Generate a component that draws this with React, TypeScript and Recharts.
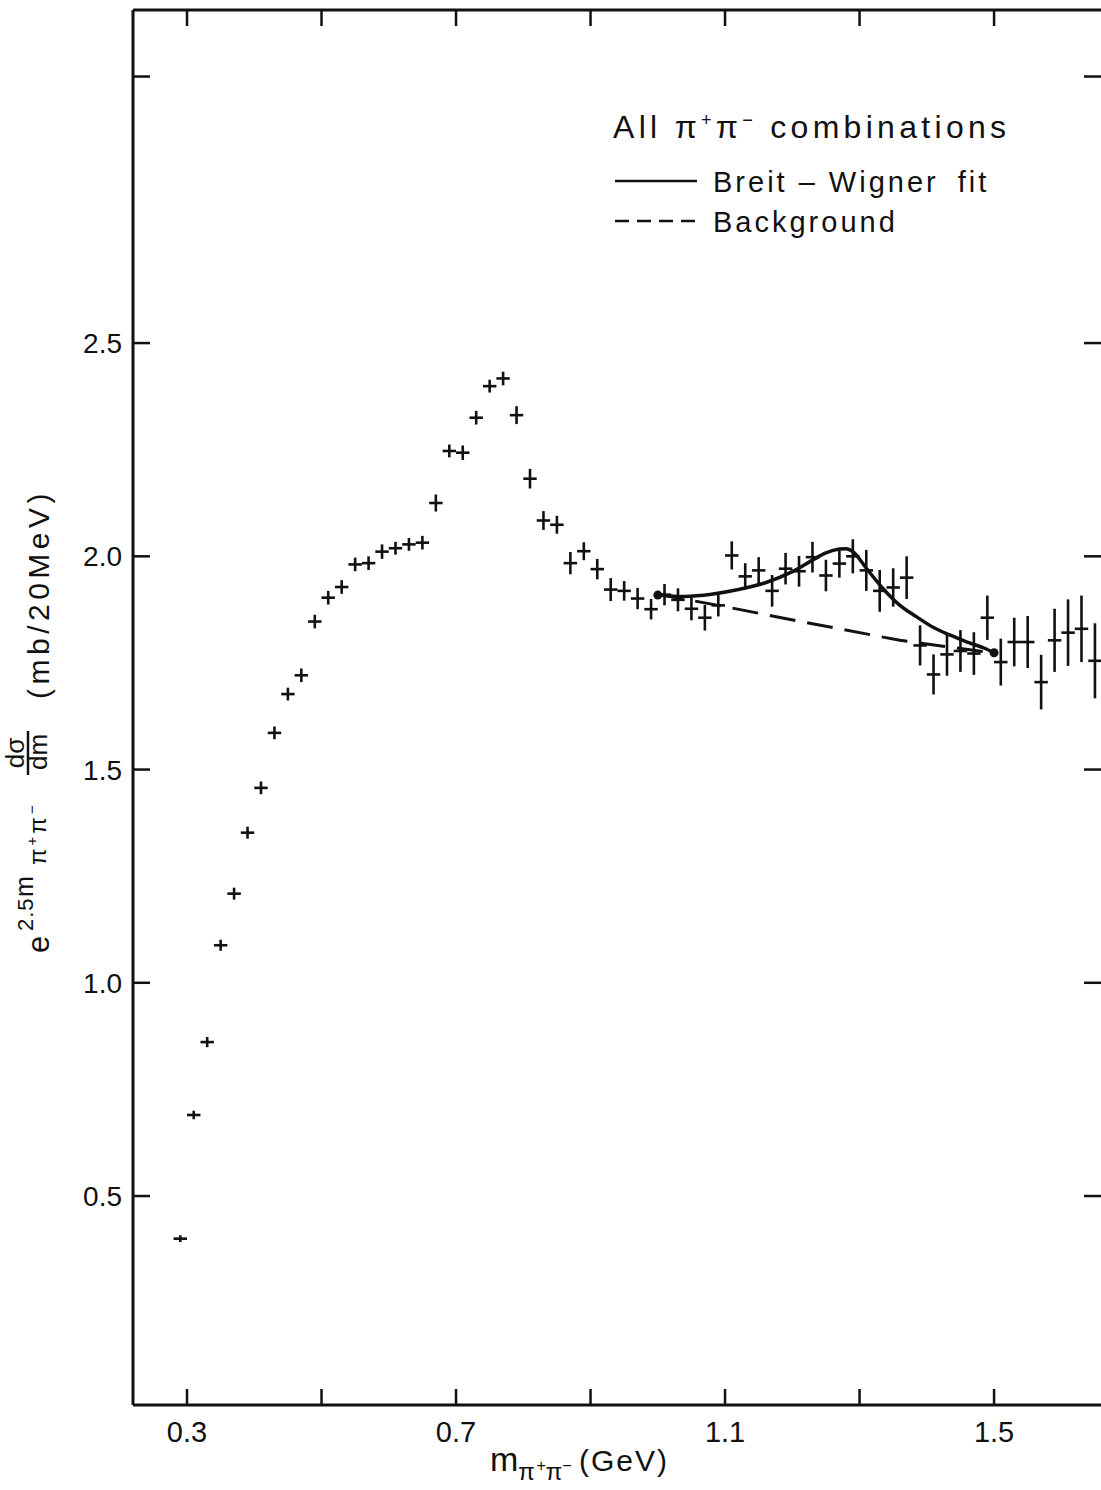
import React from "react";
import {
  ComposedChart,
  Scatter,
  Line,
  XAxis,
  YAxis,
  ErrorBar,
  ReferenceLine,
  Legend,
} from "recharts";

// bin centres (GeV), 20 MeV bins
const MASS = [
  0.29, 0.31, 0.33, 0.35, 0.37, 0.39, 0.41, 0.43, 0.45, 0.47, 0.49, 0.51,
  0.53, 0.55, 0.57, 0.59, 0.61, 0.63, 0.65, 0.67, 0.69, 0.71, 0.73, 0.75,
  0.77, 0.79, 0.81, 0.83, 0.85, 0.87, 0.89, 0.91, 0.93, 0.95, 0.97, 0.99,
  1.01, 1.03, 1.05, 1.07, 1.09, 1.11, 1.13, 1.15, 1.17, 1.19, 1.21, 1.23,
  1.25, 1.27, 1.29, 1.31, 1.33, 1.35, 1.37, 1.39, 1.41, 1.43, 1.45, 1.47,
  1.49, 1.51, 1.53, 1.55, 1.57, 1.59, 1.61, 1.63, 1.65,
];

// e^{2.5 m} dsigma/dm (mb / 20 MeV)
const XSEC = [
  0.4, 0.69, 0.861, 1.088, 1.209, 1.352, 1.457, 1.586, 1.677, 1.721, 1.847,
  1.903, 1.928, 1.981, 1.984, 2.011, 2.019, 2.028, 2.032, 2.125, 2.247, 2.243,
  2.325, 2.399, 2.417, 2.331, 2.182, 2.084, 2.074, 1.984, 2.012, 1.97, 1.922,
  1.919, 1.901, 1.876, 1.91, 1.898, 1.877, 1.856, 1.885, 2.002, 1.953, 1.967,
  1.919, 1.971, 1.965, 1.998, 1.955, 1.983, 2.0, 1.967, 1.919, 1.927, 1.95,
  1.791, 1.723, 1.77, 1.778, 1.772, 1.856, 1.752, 1.799, 1.799, 1.705, 1.803,
  1.821, 1.83, 1.755,
];

const XSEC_ERR = [
  0.008, 0.01, 0.012, 0.013, 0.014, 0.014, 0.015, 0.015, 0.015, 0.016, 0.016,
  0.016, 0.016, 0.016, 0.016, 0.017, 0.015, 0.015, 0.016, 0.02, 0.015, 0.017,
  0.016, 0.015, 0.016, 0.021, 0.023, 0.022, 0.021, 0.026, 0.021, 0.024, 0.027,
  0.023, 0.025, 0.024, 0.025, 0.027, 0.027, 0.03, 0.026, 0.033, 0.031, 0.031,
  0.037, 0.037, 0.036, 0.036, 0.037, 0.033, 0.04, 0.048, 0.049, 0.045, 0.05,
  0.047, 0.047, 0.05, 0.049, 0.05, 0.052, 0.055, 0.057, 0.061, 0.064, 0.074,
  0.078, 0.078, 0.088,
];

const BIN_HALF_WIDTH = 0.01;

// Breit-Wigner fit
const BW_MASS = [
  1.0, 1.04, 1.08, 1.12, 1.16, 1.2, 1.23, 1.25, 1.27, 1.28, 1.29, 1.31, 1.335,
  1.36, 1.385, 1.41, 1.435, 1.46, 1.485, 1.5,
];
const BW_FIT = [
  1.909, 1.906, 1.911, 1.922, 1.938, 1.964, 1.991, 2.008, 2.017, 2.018, 2.011,
  1.972, 1.924, 1.885, 1.858, 1.833, 1.815, 1.799, 1.785, 1.774,
];

// background
const BG_MASS = [1.0, 1.09, 1.21, 1.36, 1.5];
const BG_FIT = [1.911, 1.885, 1.848, 1.803, 1.773];

const X_TICKS = [0.3, 0.5, 0.7, 0.9, 1.1, 1.3, 1.5];
const X_TICK_LABELS = ["0.3", "", "0.7", "", "1.1", "", "1.5"];
const Y_TICKS = [0.5, 1.0, 1.5, 2.0, 2.5, 3.125];
const Y_TICK_LABELS = ["0.5", "1.0", "1.5", "2.0", "2.5", ""];

const X_DOMAIN = [0.2197, 1.659];
const Y_DOMAIN = [0.01, 3.281];

const W = 1101;
const H = 1490;
const PLOT_TOP = 10;
const PLOT_RIGHT = 1101;
const INK = "#111";
const FONT = "'Liberation Sans', Arial, sans-serif";

const points = MASS.map((m, i) => ({
  m,
  v: XSEC[i],
  ey: XSEC_ERR[i],
  ex: BIN_HALF_WIDTH,
}));
const bwLine = BW_MASS.map((m, i) => ({ m, v: BW_FIT[i] }));
const bgLine = BG_MASS.map((m, i) => ({ m, v: BG_FIT[i] }));

const XTick = (props: any) => {
  const { x, y, index } = props;
  const label = X_TICK_LABELS[index];
  return (
    <g>
      <line x1={x} x2={x} y1={y} y2={y - 16} stroke={INK} strokeWidth={2.5} />
      <line x1={x} x2={x} y1={PLOT_TOP} y2={PLOT_TOP + 16} stroke={INK} strokeWidth={2.5} />
      {label && (
        <text x={x} y={y + 37} textAnchor="middle" fontSize={29} fill={INK} fontFamily={FONT}>
          {label}
        </text>
      )}
    </g>
  );
};

const YTick = (props: any) => {
  const { x, y, index } = props;
  const label = Y_TICK_LABELS[index];
  return (
    <g>
      <line x1={x} x2={x + 17} y1={y} y2={y} stroke={INK} strokeWidth={2.5} />
      <line x1={PLOT_RIGHT - 17} x2={PLOT_RIGHT} y1={y} y2={y} stroke={INK} strokeWidth={2.5} />
      {label && (
        <text x={x - 11} y={y + 10} textAnchor="end" fontSize={28} fill={INK} fontFamily={FONT}>
          {label}
        </text>
      )}
    </g>
  );
};

const XLabel = () => (
  <text x={490} y={1471} fontSize={34} fill={INK} fontFamily={FONT}>
    m
    <tspan dy={9} fontSize={24} letterSpacing={1.5}>π</tspan>
    <tspan dy={-9} fontSize={16}>+</tspan>
    <tspan dy={9} fontSize={24}>π</tspan>
    <tspan dy={-9} fontSize={16}>−</tspan>
    <tspan x={579} y={1471} fontSize={30} letterSpacing={2}>(GeV)</tspan>
  </text>
);

const YLabel = () => (
  <g transform="translate(49, 955) rotate(-90)" fill={INK} fontFamily={FONT}>
    <text x={2} y={0} fontSize={31}>e</text>
    <text x={24} y={-16} fontSize={22} letterSpacing={1}>2.5</text>
    <text x={58} y={-16} fontSize={25}>m</text>
    <text x={90} y={-3} fontSize={24} letterSpacing={3}>
      π<tspan dy={-9} fontSize={15}>+</tspan>
      <tspan dy={9}>π</tspan>
      <tspan dy={-9} fontSize={15}>−</tspan>
    </text>
    <text x={202} y={-25} fontSize={26} textAnchor="middle">dσ</text>
    <line x1={180} x2={224} y1={-21} y2={-21} stroke={INK} strokeWidth={2.5} />
    <text x={203} y={-2} fontSize={26} textAnchor="middle">dm</text>
    <text x={256} y={0} fontSize={30} letterSpacing={4.5}>(mb/20MeV)</text>
  </g>
);

const LegendBox = () => (
  <svg width={480} height={160} style={{ display: "block" }}>
    <g fill={INK} fontFamily={FONT}>
      <text x={13} y={48} fontSize={32} letterSpacing={4.3}>
        All π<tspan dy={-12} fontSize={18}>+</tspan>
        <tspan dy={12}>π</tspan>
        <tspan dy={-12} fontSize={18}>−</tspan>
        <tspan dy={12}> combinations</tspan>
      </text>
      <line x1={15} x2={97} y1={91} y2={91} stroke={INK} strokeWidth={2.5} />
      <text x={113} y={102} fontSize={29} letterSpacing={3}>
        Breit – Wigner <tspan dx={8}>fit</tspan>
      </text>
      <line x1={15} x2={97} y1={131} y2={131} stroke={INK} strokeWidth={2.5} strokeDasharray="14 8" />
      <text x={113} y={142} fontSize={29} letterSpacing={3}>
        Background
      </text>
    </g>
  </svg>
);

const noShape = () => <g />;

const BwDot = (props: any) => {
  const { cx, cy, index } = props;
  if (index === 0 || index === BW_MASS.length - 1) {
    return <circle key={index} cx={cx} cy={cy} r={4.5} fill={INK} />;
  }
  return <g key={index} />;
};

export default function App() {
  return (
    <div style={{ position: "absolute", left: 0, top: 0, width: W, height: H, background: "#fff", overflow: "hidden" }}>
      <ComposedChart width={W} height={H} margin={{ top: PLOT_TOP, right: 0, bottom: 0, left: 0 }}>
        <XAxis
          type="number"
          dataKey="m"
          domain={X_DOMAIN}
          allowDataOverflow
          ticks={X_TICKS}
          interval={0}
          tick={XTick}
          tickLine={false}
          tickSize={0}
          tickMargin={0}
          height={85}
          axisLine={{ stroke: INK, strokeWidth: 3 }}
          label={{ content: XLabel }}
        />
        <YAxis
          type="number"
          dataKey="v"
          domain={Y_DOMAIN}
          allowDataOverflow
          ticks={Y_TICKS}
          interval={0}
          tick={YTick}
          tickLine={false}
          tickSize={0}
          tickMargin={0}
          width={133}
          axisLine={{ stroke: INK, strokeWidth: 3 }}
          label={{ content: YLabel }}
        />
        <ReferenceLine y={Y_DOMAIN[1]} stroke={INK} strokeWidth={3} />
        <Line
          data={bgLine}
          dataKey="v"
          type="linear"
          stroke={INK}
          strokeWidth={3}
          strokeDasharray="26 12"
          dot={false}
          isAnimationActive={false}
          legendType="none"
        />
        <Line
          data={bwLine}
          dataKey="v"
          type="monotone"
          stroke={INK}
          strokeWidth={3.5}
          dot={BwDot}
          isAnimationActive={false}
          legendType="none"
        />
        <Scatter data={points} dataKey="v" shape={noShape} isAnimationActive={false} legendType="none">
          <ErrorBar dataKey="ey" direction="y" width={0} stroke={INK} strokeWidth={2.6} isAnimationActive={false} />
          <ErrorBar dataKey="ex" direction="x" width={0} stroke={INK} strokeWidth={2.6} isAnimationActive={false} />
        </Scatter>
        <Legend
          layout="vertical"
          align="center"
          verticalAlign="middle"
          wrapperStyle={{ left: 600, top: 90, width: 480, height: 160 }}
          content={LegendBox}
        />
      </ComposedChart>
    </div>
  );
}
